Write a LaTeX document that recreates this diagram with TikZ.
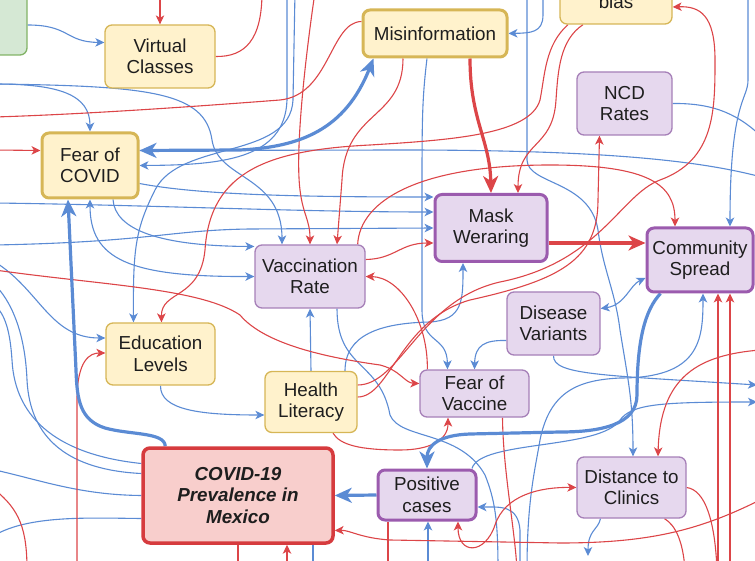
\documentclass[tikz,border=0pt]{standalone}
\usepackage{fontspec}
\setmainfont{Liberation Sans}
\usetikzlibrary{arrows.meta,calc,backgrounds}
\definecolor{ink}{HTML}{1E1E1E}
\definecolor{yelfill}{HTML}{FFF2CC}
\definecolor{yeldraw}{HTML}{D6B656}
\definecolor{purfill}{HTML}{E6D8EE}
\definecolor{purdraw}{HTML}{A680B8}
\definecolor{purdeep}{HTML}{9B5BAE}
\definecolor{redfill}{HTML}{F8CECC}
\definecolor{reddraw}{HTML}{D63B3E}
\definecolor{grnfill}{HTML}{D5E8D4}
\definecolor{grndraw}{HTML}{82B366}
\definecolor{linkblue}{HTML}{5B8BD4}
\definecolor{linkred}{HTML}{DC4548}
\tikzset{
  ctip/.tip={Stealth[inset=2.5pt,length=9pt,width=8.5pt]},
  ktip/.tip={Stealth[inset=5pt,length=17pt,width=15pt]},
  factor/.style={rectangle,rounded corners=7pt,align=center,text=ink,
    font=\fontsize{18.8}{21.5}\selectfont,inner sep=2pt},
  yelbox/.style={factor,draw=yeldraw,fill=yelfill,line width=1.3pt},
  yelkey/.style={yelbox,line width=3pt},
  purbox/.style={factor,draw=purdraw,fill=purfill,line width=1.3pt},
  purkey/.style={purbox,draw=purdeep,line width=3pt},
  blarr/.style={draw=linkblue,line width=1.1pt,-ctip},
  rdarr/.style={draw=linkred,line width=1.1pt,-ctip},
  blboth/.style={blarr,ctip-ctip},
  rdboth/.style={rdarr,ctip-ctip},
  blline/.style={draw=linkblue,line width=1.1pt},
  rdline/.style={draw=linkred,line width=1.1pt},
  blkey/.style={draw=linkblue,line width=3.2pt,-ktip},
  blkeyboth/.style={blkey,ktip-ktip},
  rdkey/.style={draw=linkred,line width=3.2pt,-ktip},
}

\begin{document}
\begin{tikzpicture}[x=1pt,y=-1pt]
  \useasboundingbox (0,0) rectangle (755,561);
  % factors
  \node[factor,draw=grndraw,fill=grnfill,line width=1.3pt,minimum width=94pt,minimum height=70pt] (offleft) at (-20,20) {};
  \node[yelbox,minimum width=110pt,minimum height=63pt] (virt) at (160,56.5) {Virtual\\Classes};
  \node[yelkey,minimum width=144pt,minimum height=47pt] (misinfo) at (435,33.5) {Misinformation};
  \node[yelbox,minimum width=112pt,minimum height=44pt] (bias) at (616,2) {bias};
  \node[purbox,minimum width=95pt,minimum height=63pt] (ncd) at (624.5,103.5) {NCD\\Rates};
  \node[yelkey,minimum width=96pt,minimum height=65pt] (fearc) at (90,165.5) {Fear of\\COVID};
  \node[purkey,minimum width=112pt,minimum height=67pt] (mask) at (491,228) {Mask\\Weraring};
  \node[purkey,minimum width=106pt,minimum height=64pt] (comm) at (700,260) {Community\\Spread};
  \node[purbox,minimum width=110pt,minimum height=63pt] (vacc) at (310,276.5) {Vaccination\\Rate};
  \node[purbox,minimum width=93pt,minimum height=63pt] (dis) at (553.5,323.5) {Disease\\Variants};
  \node[yelbox,minimum width=109pt,minimum height=62pt] (edu) at (160.5,354) {Education\\Levels};
  \node[yelbox,minimum width=92pt,minimum height=61pt] (health) at (311,402) {Health\\Literacy};
  \node[purbox,minimum width=109pt,minimum height=47pt] (fearv) at (474.5,393.5) {Fear of\\Vaccine};
  \node[purkey,minimum width=98pt,minimum height=50pt] (pos) at (427,495) {Positive\\cases};
  \node[purbox,minimum width=109pt,minimum height=61pt] (dist) at (631.5,487.5) {Distance to\\Clinics};
  \node[factor,draw=reddraw,fill=redfill,line width=3.5pt,minimum width=190pt,minimum height=95pt,
    font=\fontsize{18.8}{21.5}\selectfont\bfseries\itshape] (prev) at (238,495.5) {COVID-19\\Prevalence in\\Mexico};

  % loose ends
  \coordinate (tA) at (160,-8);  \coordinate (tB) at (287,-8);  \coordinate (tB2) at (295,-8);
  \coordinate (tF) at (543,-8);  \coordinate (tG) at (527,-8);  \coordinate (tH) at (748,-8);
  \coordinate (tI) at (262,-8);  \coordinate (tJ) at (315,-8);
  \coordinate (lA) at (-5,117);  \coordinate (lB) at (-5,150);  \coordinate (lC) at (-5,84);
  \coordinate (lD) at (-5,245);  \coordinate (lE) at (-5,203);  \coordinate (lF) at (-5,262);
  \coordinate (lG) at (-5,305);  \coordinate (lH) at (-5,285);  \coordinate (lI) at (-5,470);
  \coordinate (lJ) at (-5,535);  \coordinate (lK) at (-5,270);  \coordinate (lL) at (-5,490);
  \coordinate (rA) at (765,140); \coordinate (rB) at (765,178); \coordinate (rC) at (757,402);
  \coordinate (rD) at (757,385); \coordinate (rE) at (760,350); \coordinate (rF) at (760,500);
  \coordinate (bA) at (527,570); \coordinate (bB) at (588,556); \coordinate (bC) at (498,570);
  \coordinate (bD) at (520,570); \coordinate (bE) at (428,570); \coordinate (bF) at (313,570);
  \coordinate (bG) at (718,570); \coordinate (bH) at (730,570); \coordinate (bI) at (77,570);
  \coordinate (bJ) at (27,570);  \coordinate (bK) at (287,570); \coordinate (bL) at (238,570);
  \coordinate (bM) at (388,570); \coordinate (bN) at (517,570); \coordinate (bO) at (717,570);
  \coordinate (bP) at (685,570);

  \begin{scope}[on background layer]
  % blue links
  \draw[blarr] ($(offleft.east)+(0,5)$) .. controls (70,25) and (65,42) .. ($(virt.west)+(0,-14)$);
  \draw[blarr] (lC) .. controls (60,84) and (90,95) .. (fearc.north);
  \draw[blarr] (lC) .. controls (150,86) and (205,92) .. (212,140) .. controls (218,180) and (282,175) .. ($(vacc.north)+(-28,0)$);
  \draw[blarr] (tB) -- (287,100) .. controls (285,160) and (220,165) .. (fearc.east);
  \draw[blarr] (tB2) -- (293,100) .. controls (290,160) and (180,140) .. (155,190) .. controls (135,230) and (133,250) .. ($(edu.north)+(-27,0)$);
  \draw[blarr] ($(fearc.east)+(0,18)$) .. controls (200,195) and (300,197) .. ($(mask.west)+(0,-31)$);
  \draw[blarr] (lE) .. controls (150,205) and (300,212) .. ($(mask.west)+(0,-16)$);
  \draw[blarr] (lD) .. controls (150,242) and (170,230) .. (250,229) -- (mask.west);
  \draw[blarr] ($(fearc.south)+(23,0)$) .. controls (115,230) and (160,246) .. ($(vacc.west)+(0,-30)$);
  \draw[blboth] (fearc.south) .. controls (90,260) and (130,277) .. (vacc.west);
  \draw[blarr] (lF) .. controls (40,290) and (50,338) .. ($(edu.west)+(0,-16)$);
  \draw[blarr] (edu.south) .. controls (160,410) and (200,415) .. ($(health.west)+(0,13)$);
  \draw[blarr] (health.north) -- (vacc.south);
  \draw[blline] ($(vacc.south)+(27,0)$) .. controls (337,370) and (380,360) .. (390,415) .. controls (400,440) and (460,430) .. (485,475) .. controls (495,500) and (498,520) .. (bC);
  \draw[blarr] (bD) -- (520,530) .. controls (518,505) and (500,507) .. ($(pos.east)+(0,12)$);
  \draw[blarr] ($(misinfo.south)+(-8,0)$) .. controls (422,100) and (422,120) .. (422,200) -- (422,310) .. controls (422,345) and (447,335) .. ($(fearv.north)+(-27,0)$);
  \draw[blarr] ($(dis.west)+(0,17)$) .. controls (485,340) and (475,345) .. (fearv.north);
  \draw[blboth] ($(dis.east)+(0,-15)$) .. controls (625,305) and (630,285) .. ($(comm.west)+(0,18)$);
  \draw[blarr] ($(health.north)+(34,0)$) .. controls (345,335) and (380,323) .. (430,322) .. controls (463,320) and (463,300) .. ($(mask.south)+(-28,0)$);
  \draw[blarr] (tF) -- (543,15) .. controls (543,33) and (530,33) .. (misinfo.east);
  \draw[blarr] (tG) -- (527,160) .. controls (528,185) and (590,180) .. (598,230) .. controls (603,270) and (615,290) .. (620,330) .. controls (628,380) and (633,400) .. ($(dist.north)+(1.5,0)$);
  \draw[blline] (ncd.east) .. controls (715,103) and (740,115) .. (rA);
  \draw[blarr] (tH) -- (748,80) .. controls (748,100) and (730,100) .. ($(comm.north)+(30,0)$);
  \draw[blline] ($(fearc.east)+(0,-15)$) -- (400,150) .. controls (600,150) and (700,160) .. (rB);
  \draw[blarr] ($(pos.north)+(45,0)$) .. controls (480,440) and (600,450) .. (620,420) .. controls (632,404) and (660,402) .. (rC);
  \draw[blarr] (dis.south) .. controls (553,375) and (600,375) .. (rD);
  \draw[blarr] (bA) .. controls (527,500) and (535,470) .. (540,440) .. controls (550,390) and (580,380) .. (620,378) .. controls (700,378) and (703,340) .. ($(comm.south)+(3,0)$);
  \draw[blarr] ($(dist.south)+(-31,0)$) .. controls (598,530) and (588,530) .. (bB);
  \draw[blarr] (bE) -- ($(pos.south)+(1,0)$);
  \draw[blline] ($(prev.west)+(0,-32)$) .. controls (60,455) and (15,420) .. (12,360) .. controls (10,330) and (5,315) .. (lG);
  \draw[blline] ($(prev.west)+(0,-22)$) .. controls (70,470) and (30,440) .. (27,380) .. controls (25,330) and (10,300) .. (lH);
  \draw[blline] (prev.west) .. controls (80,495) and (40,480) .. (lI);
  \draw[blline] ($(prev.west)+(0,23)$) .. controls (90,518) and (30,515) .. (lJ);
  \draw[blline] ($(prev.south)+(75,0)$) -- (bF);
  % red links
  \draw[rdarr] (tA) -- (virt.north);
  \draw[rdline] (virt.east) .. controls (245,57) and (262,40) .. (tI);
  \draw[rdline] ($(misinfo.west)+(0,-12)$) .. controls (330,22) and (330,95) .. (280,100) .. controls (150,110) and (60,115) .. (lA);
  \draw[rdarr] (lB) -- ($(fearc.west)+(0,-15)$);
  \draw[rdarr] (tJ) .. controls (305,60) and (295,150) .. (300,190) .. controls (303,215) and (310,220) .. (vacc.north);
  \draw[rdarr] ($(misinfo.south)+(-32,0)$) .. controls (403,120) and (345,110) .. (342,180) -- ($(vacc.north)+(27,0)$);
  \draw[rdarr] ($(vacc.north east)+(-8,0)$) .. controls (360,200) and (420,165) .. (550,165) .. controls (650,165) and (675,185) .. ($(comm.north)+(-25,0)$);
  \draw[rdarr] ($(vacc.east)+(0,-17)$) .. controls (395,259) and (400,243) .. ($(mask.west)+(0,15)$);
  \draw[rdarr] ($(bias.south)+(-33,0)$) .. controls (560,40) and (558,70) .. (556,100) .. controls (553,150) and (518,140) .. ($(mask.north)+(27,0)$);
  \draw[rdarr] ($(bias.south)+(-48,0)$) .. controls (545,45) and (545,75) .. (540,100) .. controls (530,135) and (450,140) .. (370,145) .. controls (270,150) and (210,170) .. (205,250) .. controls (200,300) and (161,290) .. ($(edu.north)+(1,0)$);
  \draw[rdarr] ($(health.east)+(0,-17)$) .. controls (400,385) and (420,300) .. (500,282) .. controls (600,262) and (620,195) .. (660,180) .. controls (715,160) and (715,110) .. (715,60) .. controls (715,15) and (700,6) .. ($(bias.east)+(0,5)$);
  \draw[rdarr] ($(health.east)+(0,-5)$) .. controls (390,397) and (400,320) .. (470,300) .. controls (560,280) and (598,260) .. (598,200) -- ($(ncd.south)+(-25,0)$);
  \draw[rdarr] (bG) -- ($(comm.south)+(18,0)$);
  \draw[rdarr] (bH) -- ($(comm.south)+(30,0)$);
  \draw[rdarr] (rE) .. controls (700,355) and (660,375) .. ($(dist.north)+(26.5,0)$);
  \draw[rdboth] ($(pos.south)+(31,0)$) .. controls (458,555) and (485,555) .. (495,525) .. controls (505,495) and (540,487) .. (dist.west);
  \draw[rdarr] ($(health.south)+(22,0)$) .. controls (340,445) and (360,450) .. (400,450) .. controls (430,450) and (448,440) .. ($(fearv.south)+(-26.5,0)$);
  \draw[rdarr] (lK) .. controls (100,285) and (200,288) .. (240,315) .. controls (265,345) and (330,358) .. (380,365) .. controls (400,370) and (405,383) .. ($(fearv.west)+(0,-10)$);
  \draw[rdarr] (bI) -- (77,400) .. controls (77,360) and (90,353) .. ($(edu.west)+(0,-1)$);
  \draw[rdline] (lL) .. controls (20,510) and (27,530) .. (bJ);
  \draw[rdarr] (rF) .. controls (700,530) and (650,543) .. (560,543) -- (390,540) .. controls (360,538) and (350,530) .. ($(prev.east)+(0,35)$);
  \draw[rdarr] (bK) -- ($(prev.south)+(49,0)$);
  \draw[rdline] (prev.south) -- (bL);
  \draw[rdline] ($(pos.south)+(-39,0)$) -- (bM);
  \draw[rdline] ($(fearv.south)+(28,0)$) .. controls (503,470) and (515,530) .. (bN);
  \draw[rdline] (dist.east) .. controls (705,490) and (715,520) .. (bO);
  \draw[rdline] ($(dist.south)+(33,0)$) .. controls (675,525) and (683,540) .. (bP);
  \draw[rdarr] ($(fearv.north west)+(8,0)$) .. controls (428,320) and (400,277) .. (vacc.east);
  % key links
  \draw[blkeyboth] ($(fearc.east)+(0,-15)$) -- (240,150) .. controls (300,147) and (345,130) .. ($(misinfo.south west)+(12,0)$);
  \draw[blkey] ($(prev.north west)+(24,0)$) .. controls (165,432) and (130,435) .. (105,428) .. controls (80,420) and (77,400) .. (76,370) -- ($(fearc.south)+(-22,0)$);
  \draw[blkey] (pos.west) -- (prev.east);
  \draw[blkey] ($(comm.south west)+(15,0)$) .. controls (645,310) and (637,340) .. (637,395) .. controls (637,425) and (600,432) .. (560,432) -- (470,434) .. controls (440,435) and (427,445) .. (pos.north);
  \draw[rdkey] ($(misinfo.south)+(35,0)$) .. controls (470,120) and (490,140) .. (mask.north);
  \draw[rdkey] ($(mask.east)+(0,15)$) -- ($(comm.west)+(0,-17)$);
  \end{scope}
\end{tikzpicture}
\end{document}
